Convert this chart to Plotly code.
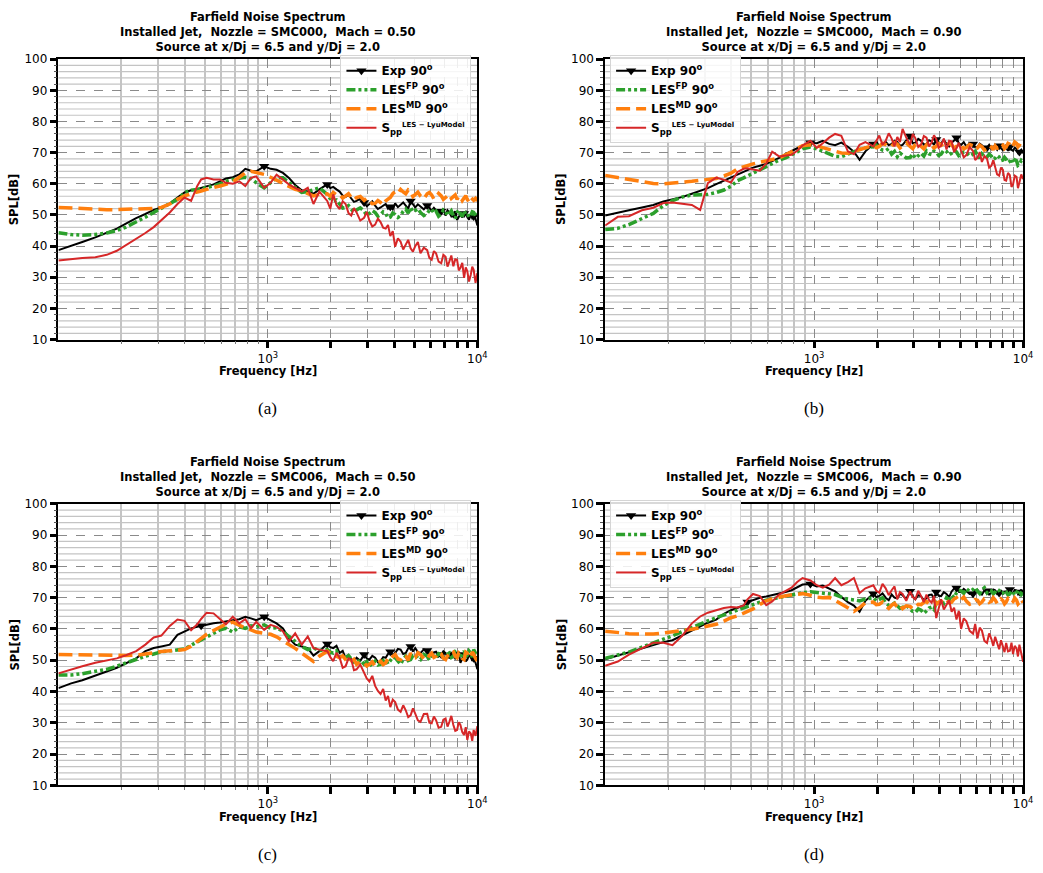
import plotly.graph_objects as go

# ---------------- data ----------------
freq = [100, 115, 130, 150, 170, 190, 210, 235, 260, 285,
        310, 340, 370, 400, 430, 460, 480, 510, 550, 590,
        630, 680, 730, 780, 830, 880, 960, 1030, 1100, 1180,
        1260, 1350, 1450, 1550, 1650, 1760,
        1920, 1985, 2050, 2125, 2200, 2275, 2350, 2425, 2500, 2575,
        2650, 2760, 2880, 2965, 3050, 3150, 3250, 3350, 3450, 3550,
        3650, 3745, 3840, 3945, 4050, 4175, 4300, 4425, 4550, 4675,
        4800, 4925, 5050, 5200, 5350, 5550, 5760, 5900, 6050, 6200,
        6350, 6530, 6720, 6880, 7050, 7200, 7350, 7510, 7680, 7840,
        8000, 8150, 8300, 8470, 8640, 8800, 8950, 9120, 9300, 9450,
        9600, 9800, 10000]

marker_freq_ab = [960, 1920, 2880, 3840, 4800, 5760, 6720, 7680, 8640, 9600]
marker_freq_cd = [480, 960, 1920, 2880, 3840, 4800, 5760, 6720, 7680, 8640, 9600]

# Panel (a): SMC000, Mach 0.50
a_exp = [38.7, 40.0, 41.3, 42.8, 44.2, 45.6, 47.2, 49.0, 50.3, 51.6,
         52.4, 53.7, 55.6, 57.2, 57.9, 58.2, 58.7, 59.3, 59.8, 60.8,
         61.7, 62.1, 63.0, 64.8, 64.2, 64.0, 65.6, 64.8, 64.5, 63.5,
         61.9, 59.6, 57.9, 57.5, 56.8, 58.2,
         59.8, 58.6, 59.0, 58.2, 57.5, 56.2, 55.8, 56.4, 55.3, 54.2,
         54.5, 55.2, 54.0, 52.8, 53.5, 54.4, 53.0, 51.9, 52.4, 53.0,
         53.5, 52.0, 52.6, 51.8, 53.7, 52.5, 53.3, 54.0, 53.0, 52.0,
         54.5, 53.2, 52.4, 53.4, 52.6, 51.8, 53.0, 52.2, 51.4, 52.3,
         51.6, 50.5, 51.2, 52.0, 49.8, 51.5, 50.8, 49.6, 50.3, 51.2,
         48.4, 49.5, 50.3, 49.2, 50.5, 51.0, 49.3, 48.5, 50.1, 49.0,
         49.5, 48.8, 46.6]
a_fp = [44.3, 43.7, 43.5, 43.7, 44.2, 45.0, 46.1, 47.7, 49.3, 50.8,
        52.2, 53.5, 55.0, 57.2, 57.9, 58.2, 58.4, 58.7, 59.3, 60.0,
        60.8, 61.4, 61.7, 62.1, 61.7, 60.3, 58.7, 60.3, 61.9, 61.9,
        60.3, 58.7, 57.2, 57.5, 58.2, 58.7,
        56.6, 55.2, 54.5, 54.8, 53.5, 52.2, 52.4, 53.0, 51.9, 50.8,
        51.6, 52.3, 51.2, 49.9, 50.5, 51.4, 50.8, 49.6, 50.1, 51.0,
        50.5, 49.0, 49.3, 50.6, 50.1, 49.2, 49.8, 51.2, 51.9, 50.6,
        52.4, 51.0, 51.4, 52.0, 50.8, 49.8, 50.5, 51.5, 51.9, 50.6,
        51.2, 49.6, 50.3, 51.6, 51.2, 49.8, 50.5, 51.3, 49.8, 48.9,
        50.8, 51.6, 50.3, 49.5, 51.4, 50.2, 50.5, 49.3, 49.8, 51.0,
        50.8, 49.6, 50.5]
a_md = [52.4, 52.2, 51.9, 51.7, 51.7, 51.7, 51.8, 51.8, 51.9, 52.1,
        52.4, 53.5, 55.0, 56.1, 56.8, 57.5, 57.7, 58.2, 58.9, 59.3,
        59.8, 60.6, 62.1, 63.5, 64.0, 63.5, 63.0, 62.1, 61.1, 60.3,
        59.3, 58.2, 57.7, 56.8, 56.1, 56.6,
        56.8, 56.0, 57.2, 56.4, 56.6, 55.4, 56.1, 56.8, 55.6, 54.8,
        55.6, 55.9, 54.7, 55.4, 54.5, 53.6, 53.7, 54.6, 54.0, 53.2,
        54.5, 55.0, 55.6, 56.8, 57.5, 56.9, 58.2, 57.4, 56.8, 58.0,
        57.5, 55.9, 56.6, 57.3, 56.1, 55.2, 56.8, 57.2, 56.4, 55.1,
        55.8, 56.9, 56.1, 55.0, 55.6, 56.2, 56.6, 55.3, 55.8, 56.4,
        55.0, 56.1, 55.8, 54.6, 55.4, 56.2, 55.0, 54.2, 55.6, 55.0,
        54.7, 55.3, 54.5]
a_lyu = [35.4, 35.9, 36.2, 36.4, 37.2, 38.5, 40.3, 42.4, 44.2, 46.1,
         48.2, 50.8, 53.5, 55.6, 54.5, 59.3, 61.4, 61.9, 61.4, 61.4,
         60.3, 60.0, 60.8, 59.3, 61.9, 62.4, 58.7, 60.3, 62.9, 61.4,
         59.8, 58.7, 57.5, 58.7, 53.5, 57.5,
         54.5, 52.0, 56.6, 53.2, 51.9, 54.4, 53.5, 50.6, 49.8, 52.2,
         50.8, 48.2, 49.1, 51.0, 48.2, 46.3, 46.9, 48.8, 47.7, 45.9,
         45.6, 46.8, 43.2, 44.8, 39.8, 42.5, 41.4, 38.9, 40.6, 42.0,
         39.3, 38.2, 40.0, 41.3, 37.7, 39.5, 38.7, 36.2, 35.6, 38.4,
         37.7, 35.0, 34.5, 37.2, 36.6, 33.4, 35.1, 37.0, 33.5, 35.8,
         35.6, 32.2, 33.0, 34.6, 29.8, 33.2, 32.0, 28.6, 30.8, 33.4,
         32.4, 28.2, 31.4]

# Panel (b): SMC000, Mach 0.90
b_exp = [49.8, 50.6, 51.5, 52.4, 53.2, 54.3, 55.0, 55.8, 56.8, 57.7,
         58.6, 59.9, 61.0, 61.8, 62.8, 63.8, 64.4, 65.2, 65.8, 66.4,
         67.3, 68.3, 69.5, 70.6, 71.4, 72.2, 73.2, 73.0, 73.8, 72.8,
         72.4, 73.2, 71.9, 70.3, 67.7, 70.4,
         72.8, 73.6, 72.0, 72.9, 73.5, 72.4, 72.8, 73.8, 73.4, 72.2,
         72.5, 73.9, 75.3, 73.0, 73.2, 74.4, 73.8, 72.6, 72.8, 74.0,
         73.6, 72.5, 74.2, 73.3, 73.0, 74.1, 72.8, 72.0, 73.2, 73.9,
         74.8, 73.0, 72.5, 73.4, 72.0, 72.9, 72.8, 71.7, 71.8, 72.9,
         72.4, 71.3, 71.6, 72.5, 71.2, 72.0, 71.8, 70.9, 72.2, 71.4,
         70.8, 71.9, 71.5, 70.6, 71.9, 70.9, 70.6, 71.6, 71.2, 69.9,
         70.2, 70.9, 69.8]
b_fp = [45.3, 45.7, 46.9, 48.7, 50.5, 53.0, 54.6, 55.8, 56.4, 56.5,
        56.6, 57.2, 58.0, 59.2, 61.0, 61.9, 62.5, 63.5, 64.6, 65.6,
        66.6, 67.6, 68.3, 69.2, 70.2, 71.2, 71.8, 71.2, 70.3, 69.6,
        68.8, 68.7, 69.5, 70.4, 71.0, 71.5,
        71.9, 72.4, 71.4, 70.8, 70.6, 71.3, 69.5, 70.4, 68.7, 69.9,
        69.2, 68.3, 68.4, 69.6, 68.2, 69.0, 69.8, 68.9, 70.5, 69.6,
        69.4, 70.6, 70.2, 69.1, 69.5, 70.8, 70.4, 69.3, 69.8, 70.9,
        70.2, 69.0, 69.4, 70.3, 70.0, 68.9, 69.5, 70.4, 69.0, 68.2,
        69.6, 68.7, 68.6, 69.5, 68.9, 67.8, 68.2, 69.1, 68.6, 67.4,
        67.6, 68.5, 67.9, 66.8, 67.2, 68.1, 66.6, 67.7, 67.4, 65.9,
        66.2, 67.5, 66.9]
b_md = [62.7, 62.0, 61.2, 60.6, 60.1, 60.0, 60.2, 60.5, 60.8, 61.1,
        61.3, 61.7, 62.5, 63.4, 64.8, 65.5, 65.8, 66.4, 66.9, 67.3,
        67.6, 68.3, 69.3, 70.3, 71.2, 72.2, 72.5, 72.2, 71.6, 71.0,
        70.5, 69.9, 69.8, 70.4, 70.9, 71.6,
        72.3, 71.6, 72.0, 73.0, 72.6, 71.8, 72.1, 73.2, 72.7, 71.5,
        72.2, 73.1, 72.0, 71.3, 72.6, 73.4, 72.0, 71.2, 72.6, 73.3,
        72.3, 71.5, 72.0, 72.9, 72.7, 71.6, 72.2, 73.0, 72.5, 71.4,
        72.0, 72.8, 72.4, 71.2, 71.6, 72.6, 72.2, 71.0, 71.5, 72.4,
        71.9, 70.8, 71.2, 72.3, 71.8, 70.9, 72.2, 71.4, 71.6, 72.9,
        72.5, 71.3, 71.8, 73.0, 72.7, 71.6, 72.1, 73.4, 73.0, 71.9,
        72.4, 73.6, 73.0]
b_lyu = [46.6, 49.4, 49.6, 51.5, 52.3, 53.8, 54.0, 53.6, 53.2, 51.6,
         60.2, 62.0, 61.3, 60.4, 63.8, 64.8, 65.0, 64.6, 64.2, 66.5,
         70.3, 68.8, 69.0, 69.3, 70.6, 72.3, 73.8, 71.5, 73.0, 74.8,
         76.0, 75.4, 70.4, 69.5, 72.5, 73.4,
         72.0, 74.0, 75.5, 72.5, 73.8, 76.2, 74.5, 72.0, 75.0, 73.4,
         77.6, 74.8, 72.5, 76.0, 74.6, 71.8, 72.6, 75.3, 74.8, 72.0,
         73.2, 75.6, 74.4, 71.5, 72.2, 74.5, 71.0, 73.8, 73.6, 70.2,
         71.4, 73.2, 70.6, 68.5, 69.2, 71.8, 70.5, 67.6, 68.4, 70.2,
         67.0, 68.9, 68.0, 65.2, 65.8, 67.6, 65.0, 63.0, 62.6, 65.2,
         64.5, 61.2, 61.0, 63.5, 62.8, 59.0, 59.8, 62.6, 62.2, 58.6,
         60.4, 63.0, 61.5]

# Panel (c): SMC006, Mach 0.50
c_exp = [41.1, 42.6, 43.6, 45.0, 46.4, 47.6, 48.9, 50.6, 52.9, 53.9,
         54.4, 55.0, 58.1, 59.2, 60.2, 60.7, 61.0, 61.5, 61.8, 62.1,
         62.5, 62.8, 63.1, 63.9, 63.4, 62.8, 63.9, 62.8, 61.8, 60.2,
         57.1, 55.0, 54.4, 53.9, 51.5, 52.9,
         55.2, 54.2, 53.9, 54.6, 52.3, 53.0, 50.6, 51.6, 50.2, 49.6,
         50.8, 49.8, 51.8, 50.6, 50.2, 51.4, 50.8, 49.4, 49.7, 51.0,
         50.8, 52.0, 52.7, 51.6, 52.3, 53.6, 53.4, 52.0, 52.3, 53.8,
         54.4, 52.8, 53.9, 52.6, 52.3, 53.5, 53.1, 52.0, 51.3, 52.5,
         52.7, 51.2, 51.8, 52.9, 52.3, 51.0, 50.8, 52.2, 52.0, 50.6,
         51.3, 52.5, 49.2, 50.8, 51.8, 49.6, 50.2, 51.6, 51.3, 49.8,
         50.6, 49.2, 47.1]
c_fp = [45.3, 45.3, 45.7, 46.4, 47.1, 48.1, 49.2, 50.2, 51.3, 52.0,
        52.7, 53.0, 53.3, 53.6, 54.8, 55.8, 56.5, 57.4, 58.6, 59.7,
        60.2, 59.0, 60.7, 60.2, 61.0, 60.7, 61.3, 60.2, 60.4, 59.2,
        57.6, 56.0, 54.4, 53.4, 53.9, 53.1,
        53.4, 52.6, 52.3, 53.0, 51.3, 50.6, 50.8, 51.5, 50.2, 49.4,
        49.2, 50.1, 48.7, 49.5, 48.1, 49.0, 49.7, 48.5, 48.7, 49.9,
        50.2, 48.8, 49.7, 51.0, 50.8, 49.6, 48.7, 50.4, 51.3, 49.9,
        50.2, 51.5, 51.8, 50.6, 50.2, 51.9, 51.3, 50.0, 52.3, 51.0,
        50.8, 52.1, 51.8, 50.4, 50.8, 51.9, 52.3, 50.9, 51.3, 52.6,
        52.0, 50.7, 50.8, 52.0, 52.9, 51.2, 51.6, 53.0, 52.3, 51.0,
        53.4, 52.2, 51.8]
c_md = [51.8, 51.8, 51.8, 51.8, 51.8, 51.6, 51.5, 51.6, 52.0, 52.5,
        52.8, 53.0, 53.2, 53.4, 54.5, 56.0, 57.0, 58.3, 59.5, 60.6,
        61.5, 62.2, 61.2, 60.3, 59.7, 59.0, 58.6, 58.3, 57.5, 56.3,
        55.3, 53.8, 52.3, 50.8, 49.6, 51.3,
        52.9, 52.2, 51.8, 51.2, 50.8, 51.4, 50.2, 49.0, 49.7, 50.3,
        48.7, 49.6, 49.2, 48.2, 48.7, 49.5, 48.1, 49.0, 49.7, 48.6,
        49.2, 50.6, 50.2, 51.2, 51.8, 50.4, 50.2, 51.7, 51.3, 50.0,
        52.3, 51.0, 50.8, 52.4, 51.8, 50.5, 50.2, 51.6, 52.3, 50.9,
        51.3, 52.5, 52.0, 50.6, 50.2, 51.4, 51.8, 53.0, 52.7, 51.3,
        50.8, 52.4, 52.0, 50.6, 50.2, 52.6, 52.3, 50.8, 51.3, 52.6,
        52.0, 50.6, 49.7]
c_lyu = [45.8, 47.1, 48.1, 49.2, 49.9, 50.6, 51.6, 52.9, 55.0, 57.3,
         57.9, 61.0, 63.0, 62.6, 59.6, 61.5, 63.2, 65.2, 65.0, 63.2,
         61.5, 63.9, 61.8, 63.1, 60.2, 62.3, 59.7, 61.3, 60.7, 59.2,
         56.0, 58.6, 55.0, 57.6, 53.9, 53.4,
         52.9, 51.0, 49.7, 52.4, 50.8, 47.6, 48.1, 50.6, 50.2, 46.8,
         47.1, 48.6, 46.0, 44.2, 43.2, 45.0, 41.8, 40.2, 39.2, 40.8,
         37.1, 38.6, 35.0, 37.4, 36.6, 34.2, 33.5, 35.6, 34.0, 31.8,
         32.4, 34.6, 32.9, 30.8, 30.3, 32.8, 32.9, 30.0, 29.8, 32.0,
         30.8, 28.4, 28.7, 31.0, 31.4, 28.8, 30.3, 32.2, 29.3, 27.4,
         27.7, 30.2, 29.3, 27.0, 26.1, 28.6, 24.5, 27.2, 26.6, 24.2,
         27.7, 25.8, 28.9]

# Panel (d): SMC006, Mach 0.90
d_exp = [50.3, 51.5, 52.6, 54.0, 55.0, 55.8, 56.4, 58.0, 59.5, 60.6,
         62.0, 63.0, 64.8, 66.0, 66.9, 67.5, 68.6, 69.3, 70.0, 70.4,
         70.8, 71.3, 71.8, 72.4, 73.2, 74.2, 74.4, 73.6, 73.9, 73.0,
         72.0, 70.2, 68.6, 67.5, 65.5, 69.0,
         71.3, 70.2, 70.6, 71.4, 70.0, 69.2, 71.0, 70.0, 69.8, 71.2,
         70.8, 69.6, 72.1, 70.4, 69.5, 70.8, 70.4, 69.2, 69.8, 70.9,
         71.0, 69.8, 71.8, 70.6, 70.5, 71.8, 71.2, 70.2, 72.0, 72.9,
         73.1, 71.9, 71.8, 72.8, 72.2, 71.2, 71.3, 72.4, 72.5, 71.4,
         71.0, 72.3, 72.2, 71.0, 71.6, 72.6, 72.4, 71.2, 71.5, 72.4,
         71.0, 71.9, 72.0, 70.9, 72.6, 71.6, 71.5, 72.5, 72.3, 71.2,
         71.8, 72.6, 71.2]
d_fp = [50.6, 51.6, 52.6, 54.2, 55.5, 56.6, 57.8, 59.2, 60.5, 61.5,
        62.6, 63.6, 64.5, 65.4, 66.2, 66.9, 67.3, 68.0, 68.6, 69.2,
        69.6, 70.1, 70.6, 71.0, 71.3, 71.6, 71.9, 71.7, 71.5, 71.2,
        71.0, 70.2, 69.5, 69.3, 69.0, 69.6,
        70.0, 69.0, 69.4, 70.0, 68.4, 67.5, 67.6, 68.3, 67.4, 66.6,
        66.9, 67.6, 66.3, 65.6, 65.3, 66.4, 66.0, 65.0, 65.8, 66.7,
        67.0, 66.2, 68.4, 67.6, 69.0, 68.2, 70.0, 69.2, 70.8, 70.0,
        71.6, 72.4, 72.2, 71.4, 72.9, 72.0, 72.6, 73.3, 72.1, 71.3,
        72.5, 73.2, 71.6, 72.4, 72.2, 71.2, 71.8, 72.7, 72.3, 71.3,
        71.4, 72.4, 71.9, 70.9, 71.2, 72.2, 71.8, 70.8, 71.5, 72.5,
        72.0, 71.0, 71.6]
d_md = [59.3, 58.8, 58.5, 58.4, 58.4, 58.7, 59.0, 59.4, 59.9, 60.4,
        60.9, 61.5, 62.5, 63.6, 64.2, 65.0, 65.4, 66.4, 67.8, 69.0,
        69.6, 70.2, 70.6, 70.9, 71.2, 71.3, 70.8, 70.2, 70.0, 70.1,
        69.2, 68.0, 66.6, 65.6, 66.8, 68.4,
        68.6, 67.8, 67.9, 68.6, 67.3, 66.6, 67.6, 68.2, 66.9, 67.6,
        66.5, 67.4, 67.2, 66.4, 67.0, 67.9, 67.8, 68.5, 68.8, 67.9,
        68.3, 69.2, 67.9, 68.6, 68.8, 69.8, 69.4, 68.4, 68.6, 69.6,
        70.0, 68.8, 69.4, 70.2, 68.9, 67.9, 68.3, 69.4, 69.2, 68.1,
        68.6, 69.7, 69.6, 68.5, 68.8, 70.0, 69.3, 68.2, 68.4, 69.6,
        69.1, 68.0, 68.6, 69.8, 69.5, 68.3, 68.7, 69.9, 69.2, 68.0,
        68.5, 69.6, 68.4]
d_lyu = [48.2, 49.6, 51.8, 53.9, 55.6, 55.6, 54.8, 58.0, 61.8, 64.0,
         65.2, 66.0, 66.7, 67.0, 66.9, 67.5, 69.5, 71.2, 70.5, 67.6,
         68.8, 71.0, 72.0, 73.2, 75.0, 76.3, 75.5, 74.0, 73.2, 74.2,
         76.3, 74.0, 75.0, 76.3, 71.5, 73.0,
         74.0, 72.2, 71.6, 74.4, 73.0, 70.8, 72.4, 73.6, 69.5, 71.8,
         71.2, 69.0, 72.0, 70.2, 69.5, 72.2, 70.5, 68.6, 71.0, 69.2,
         68.4, 70.6, 63.5, 67.0, 69.5, 66.2, 67.6, 69.2, 65.5, 66.8,
         63.0, 65.8, 60.0, 63.4, 62.5, 59.4, 58.5, 61.6, 57.0, 60.4,
         59.5, 56.2, 55.5, 58.6, 56.8, 54.6, 57.5, 55.2, 53.5, 56.4,
         54.5, 52.6, 55.5, 52.8, 53.0, 55.6, 52.0, 54.6, 53.8, 51.2,
         55.0, 52.4, 49.5]

nozzles = ["SMC000", "SMC000", "SMC006", "SMC006"]
machs = ["0.50", "0.90", "0.50", "0.90"]
captions = ["(a)", "(b)", "(c)", "(d)"]

x_major = [1000, 2000, 3000, 4000, 5000, 6000, 7000, 8000, 9000, 10000]
x_major_text = ["10<sup>3</sup>", "", "", "", "", "", "", "", "", "10<sup>4</sup>"]
x_minor = [200, 300, 400, 500, 600, 700, 800, 900]
y_minor = [v for v in range(12, 100, 2) if v % 10 != 0]

series_names = ["Exp 90<sup>o</sup>", "LES<sup>FP</sup> 90<sup>o</sup>",
                "LES<sup>MD</sup> 90<sup>o</sup>",
                "S<sub>pp</sub><sup><span style=\"font-size:7px\">LES \u2212 LyuModel</span></sup>"]

panels = [
    (a_exp, a_fp, a_md, a_lyu, marker_freq_ab),
    (b_exp, b_fp, b_md, b_lyu, marker_freq_ab),
    (c_exp, c_fp, c_md, c_lyu, marker_freq_cd),
    (d_exp, d_fp, d_md, d_lyu, marker_freq_cd),
]
for p in panels:
    for s in p[:4]:
        assert len(s) == len(freq)

# ---------------- geometry / style ----------------
W, H = 1043, 873
col_px = [(59, 482), (611, 1033)]
row_px = [(53, 338), (505, 791)]
FONT = "DejaVu Sans"
GRID_MAJOR = "#8a8a8a"
GRID_MINOR = "#c4c4c4"


def px_x(p):
    return p / W


def px_y(p):
    return 1 - p / H


fig = go.Figure()
annotations = []
shapes = []
layout_axes = {}

for i, (exp, fp, md, lyu, mk) in enumerate(panels):
    r, c = divmod(i, 2)
    sfx = "" if i == 0 else str(i + 1)
    xa, ya = "x" + sfx, "y" + sfx
    leg = "legend" + sfx
    x0, x1 = col_px[c]
    y0, y1 = row_px[r]

    fig.add_trace(go.Scatter(x=freq, y=exp, mode="lines",
                             line=dict(color="black", width=2),
                             showlegend=False, xaxis=xa, yaxis=ya, legend=leg))
    mk_y = [exp[freq.index(f)] for f in mk]
    fig.add_trace(go.Scatter(x=mk, y=mk_y, mode="markers",
                             marker=dict(symbol="triangle-down", size=9, color="black"),
                             showlegend=False, xaxis=xa, yaxis=ya, legend=leg))
    fig.add_trace(go.Scatter(x=[None], y=[None], mode="lines+markers",
                             line=dict(color="black", width=2),
                             marker=dict(symbol="triangle-down", size=9, color="black"),
                             name=series_names[0], xaxis=xa, yaxis=ya, legend=leg))
    fig.add_trace(go.Scatter(x=freq, y=fp, mode="lines",
                             line=dict(color="#2ca02c", width=3.5,
                                       dash="9px,3px,3px,3px,3px,3px"),
                             name=series_names[1], xaxis=xa, yaxis=ya, legend=leg))
    fig.add_trace(go.Scatter(x=freq, y=md, mode="lines",
                             line=dict(color="#ff7f0e", width=3.5, dash="14px,6px"),
                             name=series_names[2], xaxis=xa, yaxis=ya, legend=leg))
    fig.add_trace(go.Scatter(x=freq, y=lyu, mode="lines",
                             line=dict(color="#d62728", width=2),
                             name=series_names[3], xaxis=xa, yaxis=ya, legend=leg))

    # minor horizontal grid lines (solid, light) every 2 dB
    for v in y_minor:
        shapes.append(dict(type="line", xref=f"{xa} domain", yref=ya,
                           x0=0, x1=1, y0=v, y1=v, layer="below",
                           line=dict(color=GRID_MINOR, width=1.2)))

    layout_axes["xaxis" + sfx] = dict(
        type="log", range=[2, 4], domain=[px_x(x0), px_x(x1)], anchor=ya,
        tickmode="array", tickvals=x_major, ticktext=x_major_text,
        ticks="outside", ticklen=7, tickwidth=2.5, tickcolor="black",
        showgrid=True, gridcolor=GRID_MAJOR, griddash="dash", gridwidth=1,
        showline=True, linecolor="black", linewidth=1.5, mirror=True,
        zeroline=False, tickfont=dict(family=FONT, size=12, color="black"),
        minor=dict(tickmode="array", tickvals=x_minor, ticks="outside",
                   ticklen=3, tickwidth=1, tickcolor="#777777",
                   showgrid=True, gridcolor=GRID_MINOR, gridwidth=1.5,
                   griddash="solid"),
    )
    layout_axes["yaxis" + sfx] = dict(
        range=[10, 100], domain=[px_y(y1), px_y(y0)], anchor=xa,
        tickmode="linear", tick0=10, dtick=10,
        ticks="outside", ticklen=7, tickwidth=2.5, tickcolor="black",
        showgrid=True, gridcolor=GRID_MAJOR, griddash="dash", gridwidth=1,
        showline=True, linecolor="black", linewidth=1.5, mirror=True,
        zeroline=False, tickfont=dict(family=FONT, size=12, color="black"),
        minor=dict(tickmode="array", tickvals=y_minor, ticks="outside",
                   ticklen=3, tickwidth=1, tickcolor="#555555",
                   showgrid=False),
    )

    if c == 0:
        leg_pos = dict(x=px_x(476), xanchor="right")
    else:
        leg_pos = dict(x=px_x(616), xanchor="left")
    layout_axes[leg] = dict(
        **leg_pos, y=px_y(y0 - 4), yanchor="top",
        bgcolor="rgba(255,255,255,0.85)", bordercolor="#d5d5d5", borderwidth=1,
        font=dict(family=FONT, size=12, color="black", weight="bold"),
        tracegroupgap=0, itemwidth=30,
    )

    cx = px_x((x0 + x1) / 2)
    title = ("Farfield Noise Spectrum<br>"
             f"Installed Jet,  Nozzle = {nozzles[i]},  Mach = {machs[i]}<br>"
             "Source at x/Dj = 6.5 and y/Dj = 2.0")
    annotations.append(dict(text=title, x=cx, y=px_y(y0 - 3), xref="paper", yref="paper",
                            xanchor="center", yanchor="bottom", showarrow=False,
                            font=dict(family=FONT, size=11.5, color="black", weight="bold")))
    annotations.append(dict(text="Frequency [Hz]", x=cx, y=px_y(y1 + 32),
                            xref="paper", yref="paper", xanchor="center", yanchor="middle",
                            showarrow=False,
                            font=dict(family=FONT, size=11.5, color="black", weight="bold")))
    annotations.append(dict(text="SPL[dB]", x=px_x(x0 - 44), y=px_y((y0 + y1) / 2),
                            xref="paper", yref="paper", xanchor="center", yanchor="middle",
                            textangle=-90, showarrow=False,
                            font=dict(family=FONT, size=11.5, color="black", weight="bold")))
    annotations.append(dict(text=captions[i], x=cx, y=px_y(y1 + 70),
                            xref="paper", yref="paper", xanchor="center", yanchor="middle",
                            showarrow=False,
                            font=dict(family="Liberation Serif", size=17, color="black")))

fig.update_layout(
    width=W, height=H, margin=dict(l=0, r=0, t=0, b=0),
    paper_bgcolor="white", plot_bgcolor="white",
    font=dict(family=FONT, color="black"),
    annotations=annotations,
    shapes=shapes,
    **layout_axes,
)

fig.write_html("out.html")
